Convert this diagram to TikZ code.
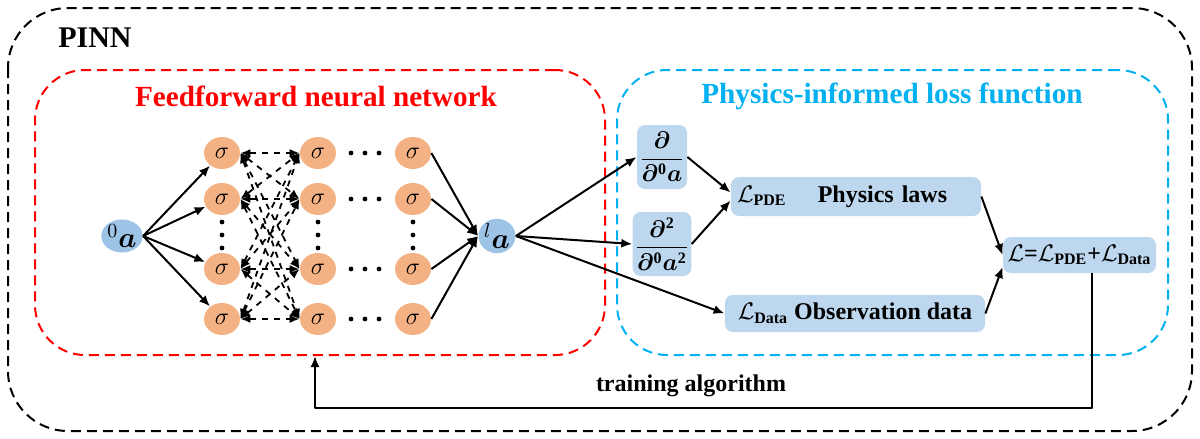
\documentclass[tikz,border=0pt]{standalone}
\usepackage{fontspec}
\setmainfont{Liberation Serif}
\usepackage{amsmath,bm}
\usetikzlibrary{arrows.meta,shapes.geometric}
\definecolor{nodeblue}{HTML}{9DC3E6}
\definecolor{nodeorange}{HTML}{F4B183}
\definecolor{boxblue}{HTML}{BDD7EE}
\definecolor{lossblue}{HTML}{00B0F0}
\begin{document}
\begin{tikzpicture}[x=0.5pt,y=-0.5pt,line join=round,
	neuron/.style={ellipse,fill=nodeorange,minimum width=18pt,minimum height=16pt,inner sep=0pt,font=\fontsize{13}{13}\selectfont},
	io/.style={ellipse,fill=nodeblue,minimum width=18.5pt,minimum height=16.5pt,inner sep=0pt,font=\fontsize{14}{14}\selectfont},
	lossbox/.style={fill=boxblue,rounded corners=4pt,inner sep=1pt,font=\bfseries\fontsize{12}{14}\selectfont},
	arr/.style={-{Latex[length=5.5pt,width=4.5pt]},line width=1pt},
	darr/.style={{Latex[length=5pt,width=4pt]}-{Latex[length=5pt,width=4pt]},dashed,line width=0.9pt},
	frame/.style={dash pattern=on 5pt off 3pt,line width=1pt,rounded corners=25pt}]
	\useasboundingbox (0,0) rectangle (1200,439);
	
	% khung ngoai
	\draw[frame,rounded corners=30pt] (8,8) rectangle (1192,431);
	\node[font=\bfseries\fontsize{15}{18}\selectfont] (pinn) at (95,38) {PINN};
	
	% mang neural
	\node[frame,draw=red,minimum width=285pt,minimum height=142.5pt] (ffn) at (320,212.5) {};
	\node[text=red,font=\bfseries\fontsize{14.6}{17}\selectfont] (fftitle) at (316,96) {Feedforward neural network};
	
	% ham mat mat
	\node[frame,draw=lossblue,minimum width=275.5pt,minimum height=142.5pt] (lossfn) at (892.5,212.5) {};
	\node[text=lossblue,font=\bfseries\fontsize{14.6}{17}\selectfont] (losstitle) at (892,96) {Physics-informed loss function};
	
	% cac lop
	\node[io] (in) at (122,236) {${}^{0}\bm{a}$};
	\node[io] (out) at (497,236) {${}^{l}\bm{a}$};
	\foreach \lx/\ln in {222/a,318/b,413/c}
	\foreach \ly/\lk in {153/1,199/2,269/3,319/4}
	\node[neuron] (\ln\lk) at (\lx,\ly) {$\sigma$};
	
	\foreach \lx in {222,318,413}
	\foreach \ly in {222,235,248}
	\fill (\lx,\ly) circle (1.2pt);
	\foreach \ly in {153,199,269,319}
	\foreach \lx in {351,365,379}
	\fill (\lx,\ly) circle (1.2pt);
	
	\foreach \k in {1,...,4}{
		\draw[arr] (in.east) -- (a\k);
		\draw[arr] (c\k.east) -- (out.west);
		\foreach \j in {1,...,4}
		\draw[darr] (a\k.east) -- (b\j.west);
	}
	
	% cac khoi
	\node[lossbox,minimum width=25pt,minimum height=32pt] (d1) at (662,157) {$\displaystyle\frac{\bm{\partial}}{\bm{\partial}{}^{\mathbf{0}}\bm{a}}$};
	\node[lossbox,minimum width=25.5pt,minimum height=32pt] (d2) at (662,244) {$\displaystyle\frac{\bm{\partial}^{\mathbf{2}}}{\bm{\partial}{}^{\mathbf{0}}\bm{a}^{\mathbf{2}}}$};
	\node[lossbox,minimum width=125pt,minimum height=19.5pt,text width=119pt,align=left] (pde) at (856,196.5) {$\mathcal{L}_{\textbf{PDE}}$\hspace{1.3em}Physics laws};
	\node[lossbox,minimum width=130pt,minimum height=18.5pt] (data) at (855,313.5) {$\mathcal{L}_{\textbf{Data}}$\ Observation data};
	\node[lossbox,minimum width=76.5pt,minimum height=18pt] (loss) at (1079.5,255) {$\mathcal{L}$=$\mathcal{L}_{\textbf{PDE}}$+$\mathcal{L}_{\textbf{Data}}$};
	
	\draw[arr] (out.east) -- (d1.west);
	\draw[arr] (out.east) -- (d2.west);
	\draw[arr] (out.east) -- (data.west);
	\draw[arr] (d1.east) -- ([yshift=2pt]pde.west);
	\draw[arr] (d2.east) -- ([yshift=-2pt]pde.west);
	\draw[arr] (pde.east) -- (loss.west);
	\draw[arr] (data.east) -- ([yshift=-6pt]loss.west);
	
	% vong lap huan luyen
	\coordinate (fb) at (315,408);
	\draw[arr] ([xshift=6pt]loss.south) |- (fb) -- (fb |- ffn.south);
	\node[font=\bfseries\fontsize{12}{14}\selectfont] (train) at (691,386) {training algorithm};
\end{tikzpicture}
\end{document}
